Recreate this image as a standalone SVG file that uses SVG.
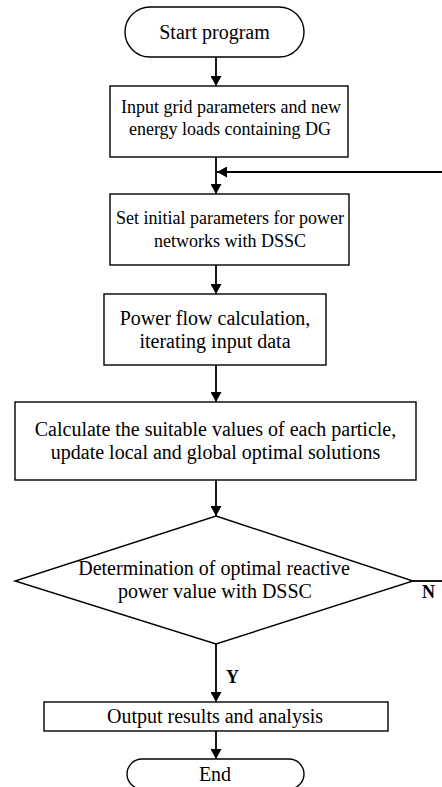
<svg xmlns="http://www.w3.org/2000/svg" width="442" height="787" viewBox="0 0 442 787">
<defs>
<style>
.box{fill:#fff;stroke:#000;stroke-width:1.4}
.t{font-family:"Liberation Serif","Times New Roman",serif;font-size:20px;fill:#000;text-anchor:middle}
.s{font-size:18px}
.lb{font-family:"Liberation Serif","Times New Roman",serif;font-size:18px;font-weight:bold;fill:#000}
.c{fill:none;stroke:#000;stroke-width:1.8}
</style>
<marker id="ah" viewBox="0 0 10 11" refX="10" refY="5.5" markerWidth="10" markerHeight="11" markerUnits="userSpaceOnUse" orient="auto">
<path d="M0,0 L10,5.5 L0,11 Z" fill="#000"/>
</marker>
</defs>
<rect width="442" height="787" fill="#fff"/>
<g id="connectors">
<line class="c" x1="216" y1="57" x2="216" y2="86" marker-end="url(#ah)"/>
<line class="c" x1="216" y1="157" x2="216" y2="194" marker-end="url(#ah)"/>
<line class="c" x1="442" y1="172" x2="217" y2="172" marker-end="url(#ah)"/>
<line class="c" x1="216" y1="265" x2="216" y2="294" marker-end="url(#ah)"/>
<line class="c" x1="216" y1="365" x2="216" y2="402" marker-end="url(#ah)"/>
<line class="c" x1="216" y1="480" x2="216" y2="516" marker-end="url(#ah)"/>
<line class="c" x1="413" y1="581" x2="442" y2="581"/>
<text class="lb" x="422" y="598">N</text>
<line class="c" x1="216" y1="644" x2="216" y2="702" marker-end="url(#ah)"/>
<text class="lb" x="226" y="683">Y</text>
<line class="c" x1="216" y1="731" x2="216" y2="759" marker-end="url(#ah)"/>
</g>
<g id="start">
<rect class="box" x="125" y="7" width="179" height="50" rx="25"/>
<text class="t" x="214.5" y="39">Start program</text>
</g>
<g id="input">
<rect class="box" x="110" y="86" width="238" height="71"/>
<text class="t s" x="231" y="113">Input grid parameters and new</text>
<text class="t s" x="230" y="135">energy loads containing DG</text>
</g>
<g id="init">
<rect class="box" x="110" y="194" width="239" height="71"/>
<text class="t s" x="230" y="224">Set initial parameters for power</text>
<text class="t s" x="230" y="247">networks with DSSC</text>
</g>
<g id="powerflow">
<rect class="box" x="104" y="294" width="222" height="71"/>
<text class="t" x="215" y="325">Power flow calculation,</text>
<text class="t" x="215" y="348">iterating input data</text>
</g>
<g id="calc">
<rect class="box" x="15" y="402" width="401" height="78"/>
<text class="t" x="215.5" y="436">Calculate the suitable values of each particle,</text>
<text class="t" x="215.5" y="459">update local and global optimal solutions</text>
</g>
<g id="decision">
<polygon class="box" points="216,516 413,581 216,644 15,581"/>
<text class="t" x="214" y="575">Determination of optimal reactive</text>
<text class="t" x="215" y="598">power value with DSSC</text>
</g>
<g id="output">
<rect class="box" x="44" y="702" width="344" height="29"/>
<text class="t" x="215" y="723">Output results and analysis</text>
</g>
<g id="end">
<rect class="box" x="127" y="759" width="177" height="30" rx="15"/>
<text class="t" x="215" y="781">End</text>
</g>
</svg>
